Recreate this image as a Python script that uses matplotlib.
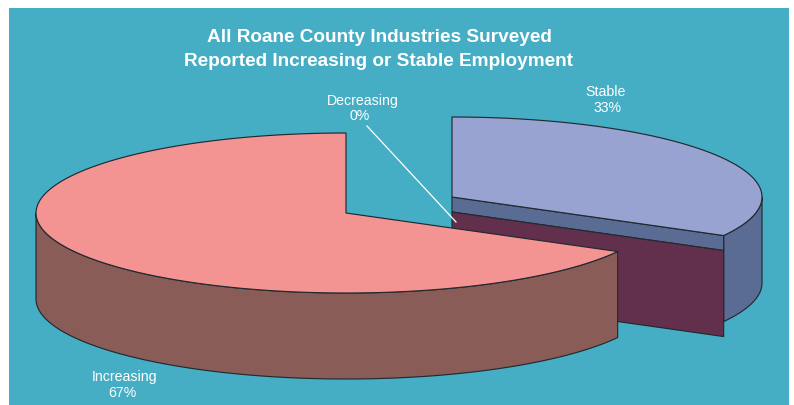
import numpy as np
import matplotlib
matplotlib.use('Agg')
import matplotlib.pyplot as plt
from matplotlib.patches import Polygon, Rectangle

plt.rcParams['font.family'] = ['Liberation Sans', 'DejaVu Sans']

categories = ['Increasing', 'Decreasing', 'Stable']
shares = [67, 0, 33]
title_lines = ['All Roane County Industries Surveyed',
               'Reported Increasing or Stable Employment']

W, H = 794, 405
RX, RY = 310, 80
DEPTH = 86
EDGE = '#222a30'
BG = '#45aec4'

fig = plt.figure(figsize=(W / 100, H / 100), dpi=100, facecolor='white')
ax = fig.add_axes([0, 0, 1, 1])
ax.set_xlim(0, W)
ax.set_ylim(H, 0)
ax.axis('off')
ax.add_patch(Rectangle((9, 8), 780, 397, fc=BG, ec='none', zorder=0))


def rim(cx, cy, a0, a1, n=200):
    t = np.radians(np.linspace(a0, a1, n))
    return np.column_stack([cx + RX * np.cos(t), cy - RY * np.sin(t)])


def poly(pts, fc, z):
    ax.add_patch(Polygon(pts, closed=True, fc=fc, ec=EDGE, lw=0.85, joinstyle='round', zorder=z))


# slice angles come from the shares, going counter clockwise from 12 o'clock
inc_end = 90 + shares[0] * 3.6
stable_start = inc_end - 360

# stable slice, pulled out to the upper right
sx, sy = 452, 197
STRIP = 15
stable_top = rim(sx, sy, stable_start, 90)
outer = rim(sx, sy, stable_start, 0)
poly(np.vstack([outer, outer[::-1] + [0, DEPTH]]), '#5b6c94', 1)
corner = stable_top[0]
poly(np.array([[sx, sy], corner, corner + [0, STRIP], [sx, sy + STRIP]]), '#5b6c94', 2)
poly(np.array([[sx, sy + STRIP], corner + [0, STRIP], corner + [0, STRIP + DEPTH],
               [sx, sy + STRIP + DEPTH]]), '#62304c', 2)
poly(np.vstack([[sx, sy], stable_top]), '#98a3d2', 3)

# increasing slice
cx, cy = 346, 213
inc_top = rim(cx, cy, 90, inc_end)
front = rim(cx, cy, 180, inc_end)
poly(np.vstack([front, front[::-1] + [0, DEPTH]]), '#8a5c58', 4)
poly(np.vstack([[cx, cy], inc_top]), '#f39492', 5)

# labels
for line, y in zip(title_lines, [37.5, 61.5]):
    ax.text(379, y, line, color='white', fontsize=13.65, fontweight='bold', ha='center', va='center', zorder=6)


def label(i, x, y, x2):
    ax.text(x, y, categories[i], color='white', fontsize=10.2, ha='center', va='center', zorder=6)
    ax.text(x2, y + 16, f'{shares[i]}%', color='white', fontsize=10.2, ha='center', va='center', zorder=6)


label(0, 125, 377, 122)
label(1, 363, 100.5, 360)
label(2, 606, 92, 608)
ax.plot([367, 456], [126, 222], color='white', lw=0.9, zorder=6)

fig.savefig('out.png', dpi=100, facecolor='white')
